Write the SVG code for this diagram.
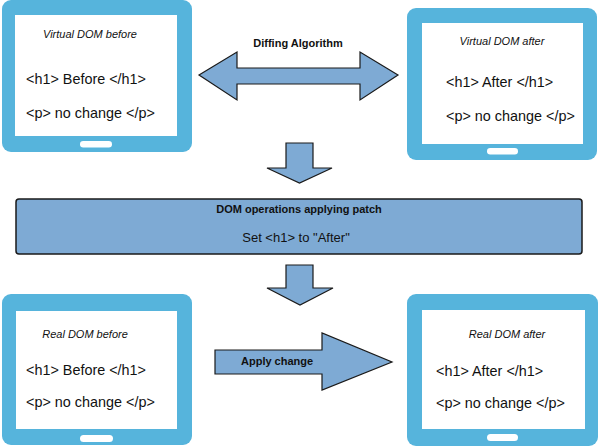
<svg xmlns="http://www.w3.org/2000/svg" width="600" height="448" viewBox="0 0 600 448">
<style>
.tab{fill:#56B4DC}
.scr{fill:#FFFFFF}
.btn{fill:#FFFFFF}
.arr{fill:#7EAAD4;stroke:#1a1a1a;stroke-width:1.2;stroke-linejoin:miter}
.box{fill:#7EAAD4;stroke:#1a1a1a;stroke-width:1.5}
text{font-family:"Liberation Sans",Arial,sans-serif;fill:#111}
.ttl{font-size:11px;font-style:italic}
.code{font-size:14.4px}
.lbl{font-size:11px;font-weight:bold}
.sub{font-size:13px}
</style>
<rect width="600" height="448" fill="#FFFFFF"/>
<g id="vdom-before">
<rect class="tab" x="2" y="0" width="190" height="152" rx="9"/>
<rect class="scr" x="15" y="15" width="162" height="121"/>
<rect class="btn" x="80" y="141" width="32" height="6.5" rx="3.2"/>
<text class="ttl" x="90" y="38" text-anchor="middle">Virtual DOM before</text>
<text class="code" x="26" y="84">&lt;h1&gt; Before &lt;/h1&gt;</text>
<text class="code" x="26" y="118">&lt;p&gt; no change &lt;/p&gt;</text>
</g>
<g id="vdom-after">
<rect class="tab" x="407" y="8" width="190" height="152" rx="9"/>
<rect class="scr" x="422" y="23" width="161" height="121"/>
<rect class="btn" x="487" y="148" width="31" height="6.5" rx="3.2"/>
<text class="ttl" x="502" y="45" text-anchor="middle">Virtual DOM after</text>
<text class="code" x="446" y="87">&lt;h1&gt; After &lt;/h1&gt;</text>
<text class="code" x="446" y="121">&lt;p&gt; no change &lt;/p&gt;</text>
</g>
<g id="patch">
<rect class="box" x="16" y="199" width="566" height="55" rx="3"/>
<text class="lbl" x="299" y="213" text-anchor="middle">DOM operations applying patch</text>
<text class="sub" x="296" y="242" text-anchor="middle">Set &lt;h1&gt; to "After"</text>
</g>
<g id="rdom-before">
<rect class="tab" x="2" y="294" width="190" height="151" rx="9"/>
<rect class="scr" x="16" y="311" width="161" height="118"/>
<rect class="btn" x="80" y="435" width="33" height="7" rx="3.5"/>
<text class="ttl" x="85" y="338" text-anchor="middle">Real DOM before</text>
<text class="code" x="26" y="375">&lt;h1&gt; Before &lt;/h1&gt;</text>
<text class="code" x="26" y="407">&lt;p&gt; no change &lt;/p&gt;</text>
</g>
<g id="rdom-after">
<rect class="tab" x="407" y="294" width="191" height="152" rx="9"/>
<rect class="scr" x="422" y="310" width="163" height="119"/>
<rect class="btn" x="487" y="434" width="31" height="7" rx="3.5"/>
<text class="ttl" x="507" y="338" text-anchor="middle">Real DOM after</text>
<text class="code" x="436" y="376">&lt;h1&gt; After &lt;/h1&gt;</text>
<text class="code" x="436" y="408">&lt;p&gt; no change &lt;/p&gt;</text>
</g>
<g id="connectors">
<polygon class="arr" points="199,75 237,52 237,68 360,68 360,52 398,75 360,100 360,84 237,84 237,100"/>
<text class="lbl" x="298" y="47" text-anchor="middle">Diffing Algorithm</text>
<polygon class="arr" points="286,143 313,143 313,168 332,168 299.5,183 267,168 286,168"/>
<polygon class="arr" points="286,265 313,265 313,288 333,288 300,305 267,288 286,288"/>
<polygon class="arr" points="215,350 322,350 322,333 392,362 322,390 322,374 215,374"/>
<text class="lbl" x="241" y="365">Apply change</text>
</g>
</svg>
